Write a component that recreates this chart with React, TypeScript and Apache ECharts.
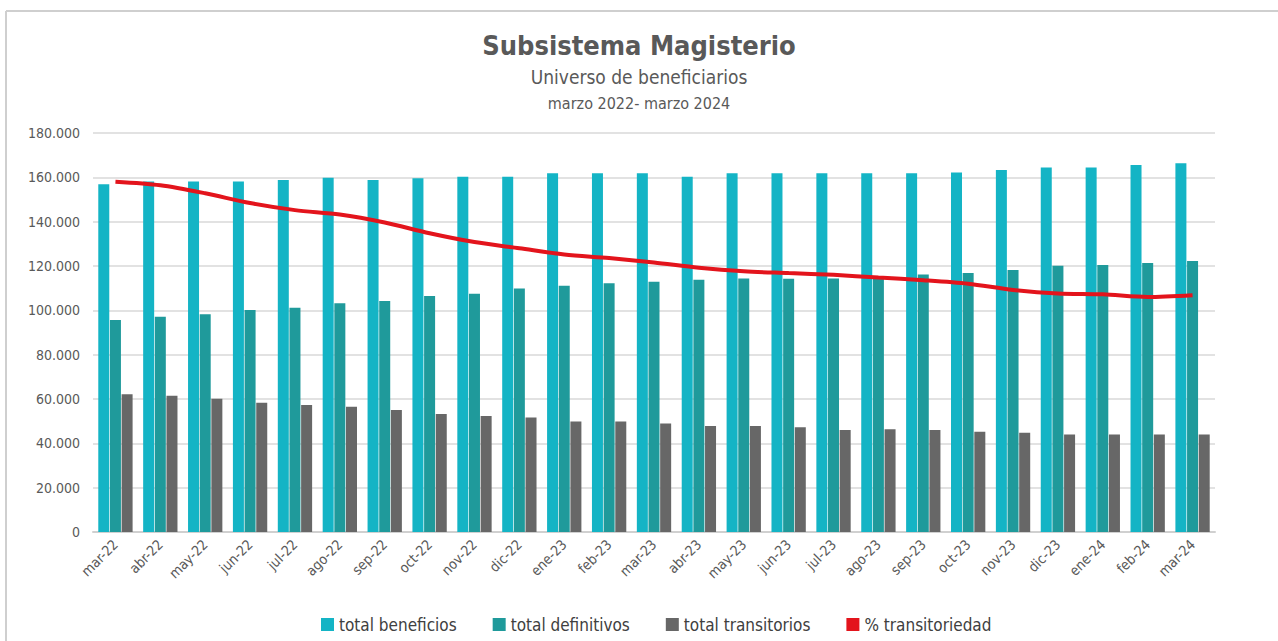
import React, { useEffect, useRef } from "react";
import * as echarts from "echarts";

const categories = [
  "mar-22", "abr-22", "may-22", "jun-22", "jul-22", "ago-22", "sep-22", "oct-22", "nov-22", "dic-22",
  "ene-23", "feb-23", "mar-23", "abr-23", "may-23", "jun-23", "jul-23", "ago-23", "sep-23", "oct-23",
  "nov-23", "dic-23", "ene-24", "feb-24", "mar-24",
];

const totalBeneficios = [
  156900, 158100, 158100, 158100, 158800, 159800, 158800, 159600, 160300, 160300,
  161800, 161800, 161800, 160300, 161800, 161800, 161800, 161800, 161800, 162200,
  163300, 164400, 164400, 165600, 166300,
];

const totalDefinitivos = [
  95600, 97100, 98200, 100100, 101200, 103200, 104200, 106500, 107500, 109800,
  111100, 112200, 112900, 113800, 114400, 114300, 114400, 114600, 116200, 116800,
  118200, 120100, 120400, 121300, 122300,
];

const totalTransitorios = [
  62100, 61500, 60100, 58300, 57300, 56500, 55000, 53200, 52300, 51600,
  49900, 49900, 49000, 47800, 47800, 47200, 46000, 46300, 46000, 45200,
  44800, 44000, 44000, 44000, 44000,
];

const pctTransitoriedad = [
  39.5, 39.1, 38.2, 37.1, 36.3, 35.8, 34.9, 33.7, 32.7, 32.0,
  31.3, 30.9, 30.4, 29.8, 29.4, 29.2, 29.0, 28.7, 28.4, 28.0,
  27.3, 26.9, 26.8, 26.5, 26.7,
];

const yTicks = [0, 20000, 40000, 60000, 80000, 100000, 120000, 140000, 160000, 180000];

const FONT = "'DejaVu Sans Condensed', 'Open Sans', sans-serif";

export default function App() {
  const ref = useRef<HTMLDivElement>(null);

  useEffect(() => {
    if (!ref.current) return;
    const chart = echarts.init(ref.current, undefined, { renderer: "svg" });
    const fmt = (v: number) => {
      const s = Math.round(v).toString();
      return s.replace(/\B(?=(\d{3})+(?!\d))/g, ".");
    };
    chart.setOption({
      animation: false,
      backgroundColor: "#ffffff",
      textStyle: { fontFamily: FONT },
      title: [
        {
          text: "Subsistema Magisterio",
          left: "center",
          top: 27,
          textStyle: { fontFamily: FONT, fontSize: 27, fontWeight: "bold", color: "#595959" },
        },
        {
          text: "Universo de beneficiarios",
          left: "center",
          top: 62,
          textStyle: { fontFamily: FONT, fontSize: 19, fontWeight: "normal", color: "#595959" },
        },
        {
          text: "marzo 2022- marzo 2024",
          left: "center",
          top: 90,
          textStyle: { fontFamily: FONT, fontSize: 16, fontWeight: "normal", color: "#595959" },
        },
      ],
      graphic: [
        { type: "line", shape: { x1: 6, y1: 11, x2: 1278, y2: 11 }, style: { stroke: "#cfcfcf", lineWidth: 2 } },
        { type: "line", shape: { x1: 6, y1: 11, x2: 6, y2: 641 }, style: { stroke: "#cfcfcf", lineWidth: 2 } },
      ],
      legend: {
        left: 316,
        top: 611,
        itemWidth: 13,
        itemHeight: 13,
        itemGap: 36,
        textStyle: { fontFamily: FONT, fontSize: 17, color: "#404040" },
        data: [
          { name: "total beneficios", icon: "rect" },
          { name: "total definitivos", icon: "rect" },
          { name: "total transitorios", icon: "rect" },
          { name: "% transitoriedad", icon: "rect" },
        ],
      },
      grid: { left: 93, right: 63, top: 133, bottom: 109, containLabel: false },
      xAxis: {
        type: "category",
        data: categories,
        axisLine: { show: true, lineStyle: { color: "#d0d0d0", width: 2 } },
        axisTick: { show: false },
        axisLabel: { rotate: 45, fontSize: 14, color: "#595959", margin: 10, interval: 0, fontFamily: FONT },
      },
      yAxis: [
        {
          type: "value",
          min: 0,
          max: 180000,
          interval: 20000,
          axisLine: { show: false },
          axisTick: { show: false },
          axisLabel: {
            fontSize: 14,
            color: "#595959",
            margin: 13,
            fontFamily: FONT,
            formatter: (v: number) => (yTicks.includes(v) ? fmt(v) : ""),
          },
          splitLine: { lineStyle: { color: "#d9d9d9", width: 1.5 } },
        },
        {
          type: "value",
          min: 0,
          max: 45,
          show: false,
          splitLine: { show: false },
        },
      ],
      series: [
        {
          name: "total beneficios",
          type: "bar",
          data: totalBeneficios,
          barWidth: 11,
          barGap: "6%",
          itemStyle: { color: "#14b4c5" },
        },
        {
          name: "total definitivos",
          type: "bar",
          data: totalDefinitivos,
          barWidth: 11,
          barGap: "6%",
          itemStyle: { color: "#1f9a9b" },
        },
        {
          name: "total transitorios",
          type: "bar",
          data: totalTransitorios,
          barWidth: 11,
          barGap: "6%",
          itemStyle: { color: "#676767" },
        },
        {
          name: "% transitoriedad",
          type: "line",
          yAxisIndex: 1,
          data: pctTransitoriedad,
          smooth: 0.3,
          symbol: "none",
          lineStyle: { color: "#e3141c", width: 4 },
          itemStyle: { color: "#e3141c" },
          z: 5,
        },
      ],
    });
    return () => chart.dispose();
  }, []);

  return (
    <div
      ref={ref}
      style={{ position: "absolute", left: 0, top: 0, width: 1278, height: 641 }}
    />
  );
}
